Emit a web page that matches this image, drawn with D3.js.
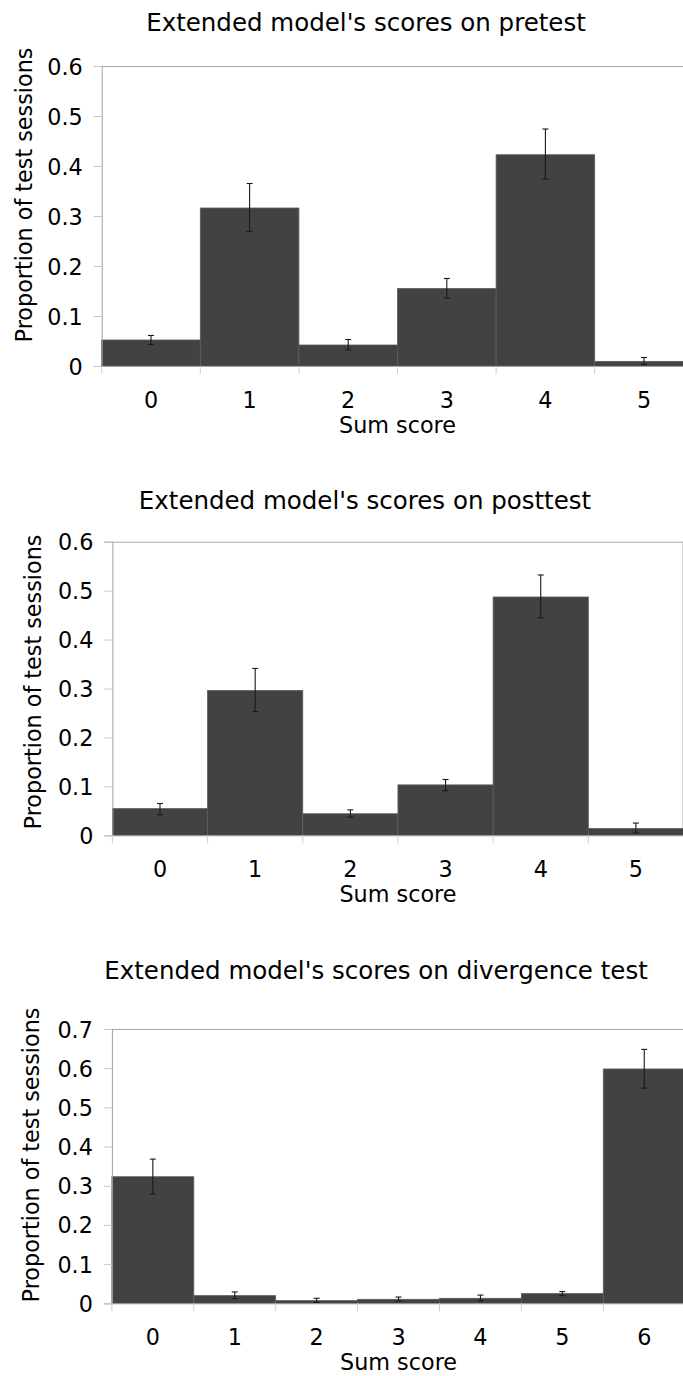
<!DOCTYPE html>
<html>
<head>
<meta charset="utf-8">
<script src="https://cdn.jsdelivr.net/npm/d3@7"></script>
<style>
  html, body { margin: 0; padding: 0; background: #fff; }
  svg { display: block; font-family: "DejaVu Sans", Verdana, sans-serif; }
</style>
</head>
<body>
<svg id="chart" width="683" height="1376"></svg>
<script>
// ---- Data ----
const titles = [
  "Extended model's scores on pretest",
  "Extended model's scores on posttest",
  "Extended model's scores on divergence test"
];
const xTitle = "Sum score";
const yTitle = "Proportion of test sessions";

const preCats = ["0", "1", "2", "3", "4", "5"];
const preValues = [0.052, 0.316, 0.042, 0.155, 0.4225, 0.0093];
const preLow    = [0.043, 0.269, 0.032, 0.136, 0.374, 0.003];
const preHigh   = [0.061, 0.365, 0.053, 0.175, 0.474, 0.017];

const postCats = ["0", "1", "2", "3", "4", "5"];
const postValues = [0.0545, 0.296, 0.044, 0.103, 0.487, 0.014];
const postLow    = [0.042, 0.253, 0.037, 0.091, 0.444, 0.005];
const postHigh   = [0.065, 0.341, 0.052, 0.114, 0.532, 0.025];

const divCats = ["0", "1", "2", "3", "4", "5", "6"];
const divValues = [0.323, 0.0196, 0.0068, 0.0102, 0.0128, 0.0247, 0.598];
const divLow    = [0.279, 0.012, 0.0026, 0.006, 0.0068, 0.0196, 0.549];
const divHigh   = [0.368, 0.029, 0.0128, 0.016, 0.021, 0.030, 0.648];

const ticks06 = [0, 0.1, 0.2, 0.3, 0.4, 0.5, 0.6];
const ticks07 = [0, 0.1, 0.2, 0.3, 0.4, 0.5, 0.6, 0.7];

// ---- Layout (positions only) ----
const panels = [
  { title: titles[0], cats: preCats, vals: preValues, lo: preLow, hi: preHigh, ticks: ticks06,
    top: 66, bottom: 366, left: 101.7, right: 693.3, titleX: 366, titleY: 31, ylabX: 32, ylabY: 195 },
  { title: titles[1], cats: postCats, vals: postValues, lo: postLow, hi: postHigh, ticks: ticks06,
    top: 541.7, bottom: 835.3, left: 112.4, right: 683.5, titleX: 365, titleY: 509, ylabX: 41, ylabY: 682 },
  { title: titles[2], cats: divCats, vals: divValues, lo: divLow, hi: divHigh, ticks: ticks07,
    top: 1029, bottom: 1303.3, left: 111.9, right: 685.2, titleX: 376, titleY: 979, ylabX: 39, ylabY: 1155 }
];

const svg = d3.select("#chart");
const fmt = v => v === 0 ? "0" : d3.format(".1f")(v);
const FS = 22.3;

panels.forEach(p => {
  const g = svg.append("g");
  const x = d3.scaleBand().domain(p.cats).range([p.left, p.right]).padding(0);
  const y = d3.scaleLinear().domain([0, p.ticks[p.ticks.length - 1]]).range([p.bottom, p.top]);
  const data = p.cats.map((c, i) => ({ c, v: p.vals[i], lo: p.lo[i], hi: p.hi[i] }));

  // plot frame (top and right)
  g.append("line").attr("x1", p.left).attr("x2", p.right).attr("y1", p.top + 0.5).attr("y2", p.top + 0.5)
    .attr("stroke", "#a8a8a8").attr("stroke-width", 1);
  g.append("line").attr("x1", p.right - 0.5).attr("x2", p.right - 0.5).attr("y1", p.top).attr("y2", p.bottom)
    .attr("stroke", "#a8a8a8").attr("stroke-width", 1);

  // bars
  g.selectAll("rect.bar").data(data).enter().append("rect")
    .attr("class", "bar")
    .attr("x", d => x(d.c))
    .attr("y", d => y(d.v))
    .attr("width", x.bandwidth())
    .attr("height", d => y(0) - y(d.v))
    .attr("fill", "#424242")
    .attr("stroke", "#5c5c5c")
    .attr("stroke-width", 0.8);

  // error bars
  const eb = g.selectAll("g.err").data(data).enter().append("g").attr("class", "err");
  eb.append("line")
    .attr("x1", d => x(d.c) + x.bandwidth() / 2).attr("x2", d => x(d.c) + x.bandwidth() / 2)
    .attr("y1", d => y(d.hi)).attr("y2", d => y(d.lo))
    .attr("stroke", "#1a1a1a").attr("stroke-width", 1.1);
  eb.append("line")
    .attr("x1", d => x(d.c) + x.bandwidth() / 2 - 3).attr("x2", d => x(d.c) + x.bandwidth() / 2 + 3)
    .attr("y1", d => y(d.hi)).attr("y2", d => y(d.hi))
    .attr("stroke", "#1a1a1a").attr("stroke-width", 1.1);
  eb.append("line")
    .attr("x1", d => x(d.c) + x.bandwidth() / 2 - 3).attr("x2", d => x(d.c) + x.bandwidth() / 2 + 3)
    .attr("y1", d => y(d.lo)).attr("y2", d => y(d.lo))
    .attr("stroke", "#1a1a1a").attr("stroke-width", 1.1);

  // y axis
  const yAxis = d3.axisLeft(y).tickValues(p.ticks).tickFormat(fmt).tickSize(8).tickPadding(11);
  const ya = g.append("g").attr("transform", `translate(${p.left},0)`).call(yAxis);
  ya.select(".domain").attr("stroke", "#a0a0a0");
  ya.selectAll(".tick line").attr("stroke", "#c8c8c8");
  ya.selectAll(".tick text").attr("font-size", FS).attr("fill", "#000")
    .attr("font-family", "DejaVu Sans").attr("dy", "0.36em");

  // x axis baseline + boundary ticks
  g.append("line").attr("x1", p.left).attr("x2", p.right).attr("y1", y(0) + 0.5).attr("y2", y(0) + 0.5)
    .attr("stroke", "#a0a0a0");
  const bounds = p.cats.map(c => x(c)).concat([x(p.cats[p.cats.length - 1]) + x.bandwidth()]);
  g.selectAll("line.xt").data(bounds).enter().append("line").attr("class", "xt")
    .attr("x1", d => d).attr("x2", d => d).attr("y1", y(0)).attr("y2", y(0) + 8)
    .attr("stroke", "#cfcfcf");

  // x tick labels
  const xAxis = d3.axisBottom(x).tickSize(0).tickPadding(26);
  const xa = g.append("g").attr("transform", `translate(0,${p.bottom})`).call(xAxis);
  xa.select(".domain").remove();
  xa.selectAll(".tick text").attr("font-size", FS).attr("fill", "#000").attr("font-family", "DejaVu Sans");

  // x title
  g.append("text").attr("x", (p.left + p.right) / 2).attr("y", p.bottom + 67)
    .attr("text-anchor", "middle").attr("font-size", FS).text(xTitle);

  // y title
  g.append("text").attr("transform", `translate(${p.ylabX},${p.ylabY}) rotate(-90)`)
    .attr("text-anchor", "middle").attr("font-size", FS).text(yTitle);

  // chart title
  g.append("text").attr("x", p.titleX).attr("y", p.titleY)
    .attr("text-anchor", "middle").attr("font-size", 24.5).text(p.title);
});
</script>
</body>
</html>
